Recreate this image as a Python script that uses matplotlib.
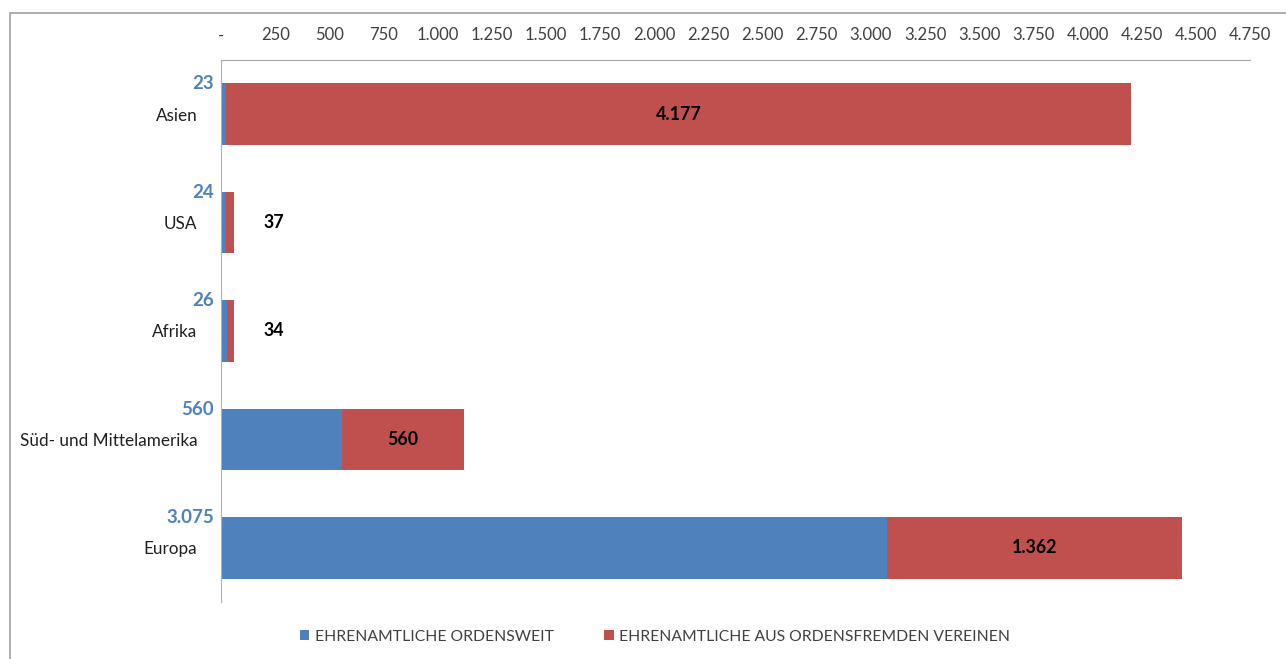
import matplotlib.pyplot as plt
from matplotlib.patches import Rectangle

# data
regions = ["Asien", "USA", "Afrika", "Süd- und Mittelamerika", "Europa"]
ordensweit = [23, 24, 26, 560, 3075]
ordensfremd = [4177, 37, 34, 560, 1362]
ticks = list(range(0, 4751, 250))

blue = "#4F81BD"
red = "#C0504D"
grey = "#404040"

plt.rcParams["font.family"] = ["Lato", "DejaVu Sans"]


def fmt(v):
    if v == 0:
        return "-"
    return f"{v:,.0f}".replace(",", ".")


fig = plt.figure(figsize=(12.86, 6.59), dpi=100)
ax = fig.add_axes([221 / 1286, 1 - 602 / 659, (1250 - 221) / 1286, (602 - 60) / 659])

y = list(range(len(regions)))
ax.barh(y, ordensweit, height=0.57, color=blue, label="EHRENAMTLICHE ORDENSWEIT")
ax.barh(y, ordensfremd, left=ordensweit, height=0.57, color=red,
        label="EHRENAMTLICHE AUS ORDENSFREMDEN VEREINEN")

ax.set_xlim(0, 4750)
ax.set_ylim(4.5, -0.5)
ax.set_xticks(ticks)
ax.set_xticklabels([fmt(t) for t in ticks])
ax.xaxis.tick_top()
ax.tick_params(axis="x", length=0, pad=12, labelsize=12, labelcolor=grey)
ax.set_yticks(y)
ax.set_yticklabels(regions)
ax.tick_params(axis="y", length=0, pad=17, labelsize=12.3, labelcolor="#202020")

for s in ["right", "bottom"]:
    ax.spines[s].set_visible(False)
ax.spines["top"].set_color("#a6a6a6")
ax.spines["left"].set_color("#b0b0b0")

# labels for the blue series, above the bar at the axis
for i, v in enumerate(ordensweit):
    ax.annotate(fmt(v), xy=(0, i - 0.28), xytext=(-5, 0), textcoords="offset points",
                ha="right", va="center", color=blue, fontsize=13.5, fontweight="bold")

# labels for the red series
for i, (a, b) in enumerate(zip(ordensweit, ordensfremd)):
    if b > 300:
        ax.text(a + b / 2, i, fmt(b), ha="center", va="center",
                fontsize=12.8, fontweight="bold", color="black")
    else:
        ax.annotate(fmt(b), xy=(a + b, i), xytext=(21, 0), textcoords="offset points",
                    ha="left", va="center", fontsize=12.8, fontweight="bold", color="black")

fig.legend(loc="center", bbox_to_anchor=(655 / 1286, 1 - 637 / 659), ncol=2, frameon=False,
           handlelength=0.6, handleheight=0.6, handletextpad=0.35, columnspacing=3.2,
           fontsize=11.3, labelcolor=grey)

fig.patches.append(Rectangle((10 / 1286, -0.1), 1.1, (659 - 13) / 659 + 0.1,
                             transform=fig.transFigure, fill=False,
                             edgecolor="#a0a0a0", linewidth=1.2))

fig.savefig("out.png", dpi=100)
